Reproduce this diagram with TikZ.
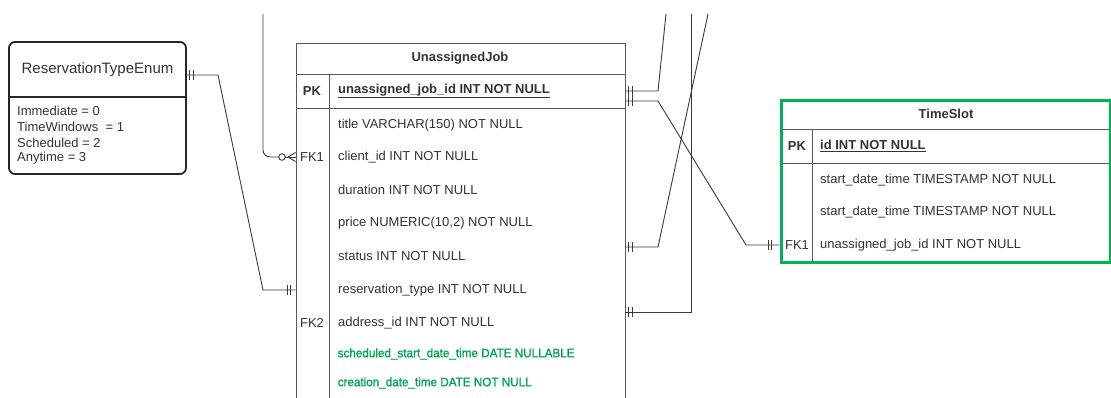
\documentclass[tikz,border=0pt]{standalone}
\usepackage{fontspec}
\setmainfont{Liberation Sans}
\newfontfamily\gfont[FakeBold=1.3,FakeStretch=0.95]{Liberation Sans}
\usetikzlibrary{calc}
\definecolor{txt}{HTML}{333333}
\definecolor{lnc}{HTML}{3A3A3A}
\definecolor{tbl}{HTML}{5A5A5A}
\definecolor{grn}{HTML}{00B456}
\definecolor{gtxt}{HTML}{00A64F}
\newcommand\fm{\fontsize{13}{15}\selectfont}
\begin{document}
\begin{tikzpicture}[x=1pt,y=-1pt,
  lbl/.style={anchor=west, inner sep=0pt, text=txt, font=\fm},
  key/.style={anchor=center, inner sep=0pt, text=txt, font=\fm},
  glbl/.style={anchor=west, inner sep=0pt, text=gtxt, font=\gfont\fontsize{12.3}{14}\selectfont},
  hdr/.style={anchor=center, inner sep=0pt, text=txt, font=\fm\bfseries},
  conn/.style={draw=lnc, line width=0.9pt},
  tline/.style={draw=tbl, line width=0.9pt},
  enumbox/.style={draw=black!85, line width=1.8pt, rounded corners=6pt, minimum width=177pt, minimum height=132pt, inner sep=0pt},
  tbox/.style={draw=tbl, line width=0.9pt, fill=white, minimum width=329pt, minimum height=370pt, inner sep=0pt, anchor=north west},
  tsbox/.style={draw=grn, line width=3pt, minimum width=329.5pt, minimum height=162.5pt, inner sep=0pt, anchor=north west},
  bar/.pic={\draw[lnc, line width=0.9pt] (0,-5) -- (0,5);}
]
\useasboundingbox (0,0) rectangle (1111,397);
\fill[white] (0,0) rectangle (1111,397);

% ---------------- ReservationTypeEnum ----------------
\node[enumbox] (enum) at (97.5,108) {};
\draw[black!85, line width=1.8pt] (enum.west |- 0,97) -- (enum.east |- 0,97);
\node[anchor=center, inner sep=0pt, text=txt, font=\fontsize{15}{18}\selectfont] (enumh) at (97.5,70) {ReservationTypeEnum};
\node[lbl] (e1) at (17,111) {Immediate = 0};
\node[lbl] (e2) at (17,127) {TimeWindows\ \ = 1};
\node[lbl] (e3) at (17,143) {Scheduled = 2};
\node[lbl] (e4) at (17,158) {Anytime = 3};

% ---------------- UnassignedJob ----------------
\begin{scope}
\clip (0,0) rectangle (1111,397);
\node[tbox] (uj) at (295.5,42.5) {};
\draw[tline] (295.5,74.5) -- (624.5,74.5);
\draw[tline] (295.5,108) -- (624.5,108);
\draw[tline] (329,74.5) -- (329,420);
\end{scope}
\node[hdr] (ujh) at (460,58.5) {UnassignedJob};
\node[key, font=\fm\bfseries] (ujpk) at (312,91) {PK};
\node[lbl, font=\fm\bfseries] (ujid) at (338,91) {\underline{unassigned\_job\_id INT NOT NULL}};
\node[lbl] (r1) at (338,125) {title VARCHAR(150) NOT NULL};
\node[key] (ujfk1) at (312,157) {FK1};
\node[lbl] (r2) at (338,157) {client\_id INT NOT NULL};
\node[lbl] (r3) at (338,190) {duration INT NOT NULL};
\node[lbl] (r4) at (338,223) {price NUMERIC(10,2) NOT NULL};
\node[lbl] (r5) at (338,256) {status INT NOT NULL};
\node[lbl] (r6) at (338,290) {reservation\_type INT NOT NULL};
\node[key] (ujfk2) at (312,323) {FK2};
\node[lbl] (r7) at (338,323) {address\_id INT NOT NULL};
\node[glbl] (r8) at (337.5,354) {scheduled\_start\_date\_time DATE NULLABLE};
\node[glbl] (r9) at (337.5,383) {creation\_date\_time DATE NOT NULL};

% ---------------- TimeSlot ----------------
\draw[tline] (779.5,129) -- (1109,129);
\draw[tline] (779.5,163) -- (1109,163);
\draw[tline] (812,129) -- (812,261);
\node[tsbox] (ts) at (779.5,98.5) {};
\node[hdr] (tsh) at (946,114) {TimeSlot};
\node[key, font=\fm\bfseries] (tspk) at (797,146) {PK};
\node[lbl, font=\fm\bfseries] (tsid) at (820,146) {\underline{id INT NOT NULL}};
\node[lbl] (t1) at (820,180) {start\_date\_time TIMESTAMP NOT NULL};
\node[lbl] (t2) at (820,212) {start\_date\_time TIMESTAMP NOT NULL};
\node[key] (tsfk1) at (797,245) {FK1};
\node[lbl] (t3) at (820,245) {unassigned\_job\_id INT NOT NULL};

% ---------------- attachment points ----------------
\coordinate (enumR) at (enum.east |- 0,75);
\coordinate (ujFK1) at (uj.west |- 0,157);
\coordinate (ujRes) at (uj.west |- 0,290);
\coordinate (ujPK1) at (uj.east |- 0,91);
\coordinate (ujPK2) at (uj.east |- 0,101);
\coordinate (ujSt) at (uj.east |- 0,247);
\coordinate (ujAd) at (uj.east |- 0,312);
\coordinate (tsFK) at (ts.west |- 0,245);
\coordinate (top1) at (263,14);
\coordinate (top2) at (666,14);
\coordinate (top3) at (708,14);
\coordinate (top4) at (691,14);

% ---------------- connectors ----------------
% enum -> reservation_type
\draw[conn] (enumR) -- (218,75) -- (263,290) -- (ujRes);
\pic at (189.5,75) {bar}; \pic at (193,75) {bar};
\pic at (287,290) {bar}; \pic at (290.5,290) {bar};

% client -> FK1 (zero or many)
\draw[conn, rounded corners=7pt] (top1) -- (263,157) -- (278.7,157);
\draw[conn] (282,157) circle (3.3);
\draw[conn] (285.3,157) -- (ujFK1);
\draw[conn] (288,157) -- ($(ujFK1)+(0,-4.5)$);
\draw[conn] (288,157) -- ($(ujFK1)+(0,4.5)$);

% PK -> up
\draw[conn] (ujPK1) -- (658,91) -- (top2);
\pic at (628.5,91) {bar}; \pic at (632,91) {bar};

% PK -> TimeSlot FK1
\draw[conn] (ujPK2) -- (658,101) -- (746,245) -- (tsFK);
\pic at (628.5,101) {bar}; \pic at (632,101) {bar};
\pic at (768,245) {bar}; \pic at (771.5,245) {bar};

% status -> up
\draw[conn] (ujSt) -- (658,247) -- (top3);
\pic at (628.5,247) {bar}; \pic at (632,247) {bar};

% address -> up
\draw[conn] (ujAd) -- (691,312) -- (top4);
\pic at (628.5,312) {bar}; \pic at (632,312) {bar};
\end{tikzpicture}
\end{document}
